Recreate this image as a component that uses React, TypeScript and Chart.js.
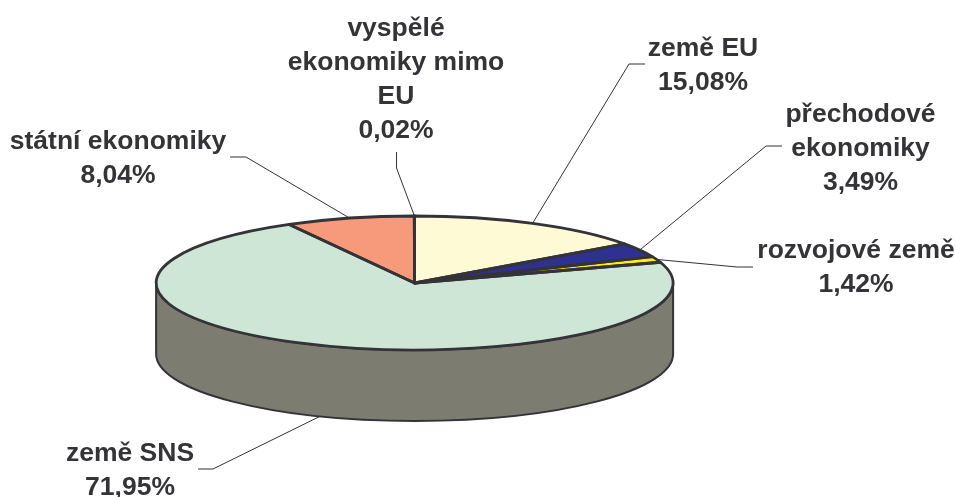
import React, { useEffect, useRef } from "react";
import { Chart, registerables } from "chart.js";

Chart.register(...registerables);

const categories = ["země EU", "přechodové ekonomiky", "rozvojové země", "země SNS", "státní ekonomiky", "vyspělé ekonomiky mimo EU"];
const values = [15.08, 3.49, 1.42, 71.95, 8.04, 0.02];
const valueLabels = ["15,08%", "3,49%", "1,42%", "71,95%", "8,04%", "0,02%"];
const colors = ["#FFFAD6", "#2E3192", "#FFF200", "#CDE6D6", "#F79A7B", "#FFFAD6"];

const INK = "#333338";
const WALL = "#7C7C70";
const geo = { cx: 414.6, cy: 283, rx: 258.5, ry: 67, depth: 71 };

// one layout entry per category: text lines, text centre x, first baseline, elbow points
const labelLines = [
  ["země EU"],
  ["přechodové", "ekonomiky"],
  ["rozvojové země"],
  ["země SNS"],
  ["státní ekonomiky"],
  ["vyspělé", "ekonomiky mimo", "EU"],
];
const labelX = [703, 860.5, 856, 130, 118, 396];
const labelY = [56, 121.7, 258, 460.7, 149, 35.7];
const leaderPts: number[][][] = [
  [[645, 64], [629, 64]],
  [[782, 146], [766, 146]],
  [[753, 267], [737, 267]],
  [[198, 469], [213, 469]],
  [[230, 157], [246, 157]],
  [[396.5, 152], [396.5, 168]],
];
const LINE_H = 34.2;

const pie3d = {
  id: "pie3d",
  beforeDatasetsDraw(chart: any) {
    const ctx = chart.ctx;
    const arcs = chart.getDatasetMeta(0).data;
    const a = arcs[0];
    const { cx, cy, rx, ry, depth } = geo;
    ctx.save();
    ctx.beginPath();
    ctx.moveTo(cx - rx, cy);
    ctx.lineTo(cx - rx, cy + depth);
    ctx.ellipse(cx, cy + depth, rx, ry, 0, Math.PI, 0, true);
    ctx.lineTo(cx + rx, cy);
    ctx.ellipse(cx, cy, rx, ry, 0, 0, Math.PI, false);
    ctx.closePath();
    ctx.fillStyle = WALL;
    ctx.fill();
    ctx.strokeStyle = INK;
    ctx.lineWidth = 2;
    ctx.stroke();
    ctx.restore();

    ctx.save();
    ctx.translate(cx, cy);
    ctx.scale(rx / a.outerRadius, ry / a.outerRadius);
    ctx.translate(-a.x, -a.y);
  },
  afterDatasetsDraw(chart: any) {
    const ctx = chart.ctx;
    ctx.restore();
    const arcs = chart.getDatasetMeta(0).data;
    const { cx, cy, rx, ry, depth } = geo;

    ctx.save();
    ctx.strokeStyle = INK;
    ctx.lineJoin = "round";
    ctx.lineWidth = 2.8;
    arcs.forEach((arc: any) => {
      ctx.beginPath();
      ctx.moveTo(cx, cy);
      ctx.ellipse(cx, cy, rx, ry, 0, arc.startAngle, arc.endAngle, false);
      ctx.closePath();
      ctx.stroke();
    });
    ctx.restore();

    ctx.save();
    ctx.strokeStyle = INK;
    ctx.lineWidth = 1;
    arcs.forEach((arc: any, i: number) => {
      const mid = (arc.startAngle + arc.endAngle) / 2;
      const front = Math.sin(mid) > 0.8;
      const ex = cx + rx * Math.cos(mid);
      const ey = cy + ry * Math.sin(mid) + (front ? depth : 0);
      const pts = leaderPts[i];
      ctx.beginPath();
      ctx.moveTo(pts[0][0], pts[0][1]);
      ctx.lineTo(pts[1][0], pts[1][1]);
      ctx.lineTo(ex, ey);
      ctx.stroke();
    });
    ctx.fillStyle = INK;
    ctx.font = 'bold 26.5px "Liberation Sans", Arial, sans-serif';
    ctx.textAlign = "center";
    ctx.textBaseline = "alphabetic";
    labelLines.forEach((lines, i) => {
      const all = [...lines, valueLabels[i]];
      all.forEach((t, j) => ctx.fillText(t, labelX[i], labelY[i] + j * LINE_H));
    });
    ctx.restore();
  },
};

export default function App() {
  const ref = useRef<HTMLCanvasElement>(null);
  useEffect(() => {
    const chart = new Chart(ref.current as HTMLCanvasElement, {
      type: "pie",
      data: {
        labels: categories,
        datasets: [{ data: values, backgroundColor: colors, borderWidth: 0, clip: false } as any],
      },
      options: {
        responsive: false,
        animation: false,
        layout: { padding: 0 },
        plugins: { legend: { display: false }, tooltip: { enabled: false } },
      },
      plugins: [pie3d],
    } as any);
    return () => chart.destroy();
  }, []);
  return (
    <div style={{ position: "absolute", left: 0, top: 0, width: 956, height: 497, background: "#fff" }}>
      <canvas ref={ref} width={956} height={497} style={{ display: "block" }} />
    </div>
  );
}
